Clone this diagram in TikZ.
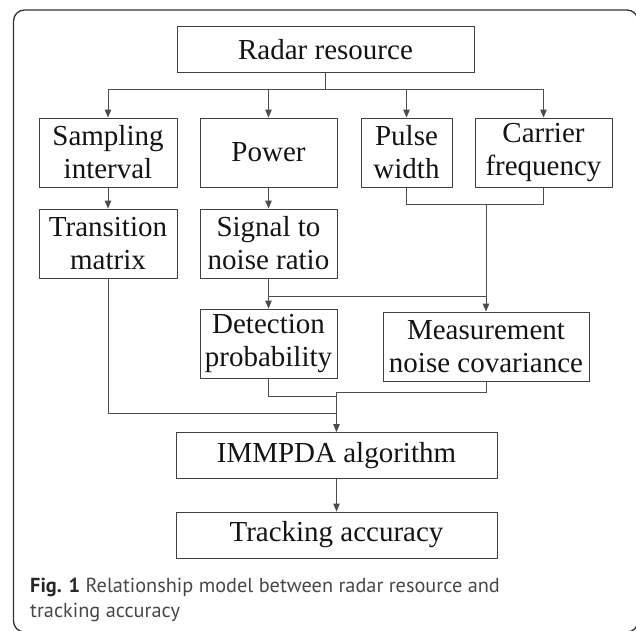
\documentclass[tikz,border=0pt]{standalone}
\usepackage{fontspec}
\setmainfont{Liberation Serif}
\newfontfamily\capfont{PT Sans}
\usetikzlibrary{arrows.meta}

\definecolor{boxline}{gray}{0.25}
\definecolor{connline}{gray}{0.3}
\definecolor{frameline}{gray}{0.2}
\definecolor{captext}{gray}{0.28}
\definecolor{inktext}{gray}{0.08}

\tikzset{
  blk/.style={draw=boxline, line width=0.9pt, inner sep=0pt, align=center,
    text=inktext, font=\fontsize{29}{33}\selectfont},
  blk2/.style={blk, minimum height=69pt},
  blk1/.style={blk, minimum height=46pt},
  link/.style={draw=connline, line width=0.9pt},
  feed/.style={link, -{Triangle[length=8pt,width=6.5pt]}},
  capline/.style={anchor=base west, inner sep=0pt, text=captext,
    font=\capfont\fontsize{20.3}{25}\selectfont},
}

\begin{document}
\begin{tikzpicture}[x=1pt, y=-1pt]
  \useasboundingbox (0,0) rectangle (636,630);
  \begin{scope}
    \clip (0,0) rectangle (636,630);
    \draw[frameline, line width=1.3pt, rounded corners=11pt] (13.5,10) rectangle (638,632);
  \end{scope}

  % blocks
  \node[blk1, minimum width=297pt] (radar) at (325.5,49.5) {Radar resource};
  \node[blk2, minimum width=138pt] (samp)  at (108,152.5) {Sampling\\interval};
  \node[blk2, minimum width=137pt] (power) at (268.5,152.5) {Power};
  \node[blk2, minimum width=91pt]  (pulse) at (406.5,152.5) {Pulse\\width};
  \node[blk2, minimum width=137pt] (carr)  at (543.5,152.5) {Carrier\\frequency};
  \node[blk2, minimum width=138pt] (trans) at (108,243.5) {Transition\\matrix};
  \node[blk2, minimum width=137pt] (snr)   at (268.5,243.5) {Signal to\\noise ratio};
  \node[blk2, minimum width=137pt] (det)   at (268.5,343.5) {Detection\\probability};
  \node[blk2, minimum width=206pt] (meas)  at (486,346.5) {Measurement\\noise covariance};
  \node[blk1, minimum width=321pt] (imm)   at (336.5,455.5) {IMMPDA algorithm};
  \node[blk1, minimum width=321pt] (track) at (336.5,535) {Tracking accuracy};

  % heights of the horizontal runs
  \coordinate (busA) at (0,89);
  \coordinate (busB) at (0,204);
  \coordinate (busC) at (0,296);
  \coordinate (busD) at (0,396);
  \coordinate (busE) at (0,392);
  \coordinate (busF) at (0,413);

  % radar resource fan-out
  \draw[link] (radar.south) -- (radar.south |- busA);
  \draw[link] (samp.north |- busA) -- (carr.north |- busA);
  \foreach \n in {samp,power,pulse,carr}
    \draw[feed] (\n.north |- busA) -- (\n.north);

  \draw[feed] (samp.south) -- (trans.north);
  \draw[feed] (power.south) -- (snr.north);

  % pulse width and carrier frequency feed the measurement noise
  \draw[link] (pulse.south) -- (pulse.south |- busB) -- (carr.south |- busB) -- (carr.south);
  \draw[feed] (meas.north |- busB) -- (meas.north);

  % signal to noise ratio
  \draw[feed] (snr.south) -- (det.north);
  \draw[link] (snr.south |- busC) -- (meas.north |- busC);

  % inputs of the IMMPDA algorithm
  \draw[link] (det.south) -- (det.south |- busD) -- (imm.north |- busD);
  \draw[link] (meas.south) -- (meas.south |- busE) -- (imm.north |- busE);
  \draw[link] (trans.south) -- (trans.south |- busF) -- (imm.north |- busF);
  \draw[feed] (imm.north |- busE) -- (imm.north);
  \draw[feed] (imm.south) -- (track.north);

  % caption
  \node[capline] (cap1) at (30,592) {{\bfseries\color{black!85}Fig. 1} Relationship model between radar resource and};
  \node[capline] (cap2) at (30,617) {tracking accuracy};
\end{tikzpicture}
\end{document}
